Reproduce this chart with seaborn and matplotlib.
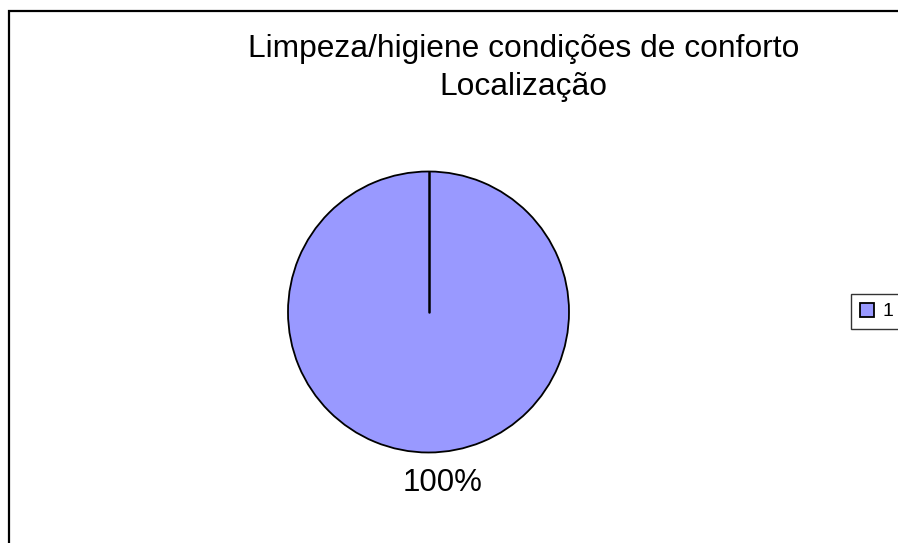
import matplotlib
matplotlib.use("Agg")
import matplotlib.pyplot as plt
import seaborn as sns
from matplotlib.patches import Rectangle

# data
categories = ["1"]
values = [100]
title_lines = ["Limpeza/higiene condições de conforto", "Localização"]
slice_colors = ["#9999FF"]

sns.set_theme(style="white")
plt.rcParams['font.family'] = ['Liberation Sans', 'DejaVu Sans']
plt.rcParams['text.color'] = 'black'

fig = plt.figure(figsize=(8.98, 5.43), dpi=100)
W, H = 898, 543

# outer chart frame (runs off right and bottom edges)
fig.patches.append(Rectangle((9 / W, -0.1), 1.1, 1 - 11 / H + 0.1, transform=fig.transFigure,
                             fill=False, edgecolor='black', linewidth=1.6, zorder=0))

# pie axes: center (428.5, 312) px, radius 140.5 px
r_px = 140.5
cx, cy = 428.5, 312
ax = fig.add_axes([(cx - r_px) / W, (H - cy - r_px) / H, 2 * r_px / W, 2 * r_px / H])
wedges, texts, autotexts = ax.pie(values, labels=None, colors=slice_colors, startangle=90,
                                  counterclock=False, autopct='%1.0f%%', pctdistance=1.22,
                                  wedgeprops=dict(edgecolor='black', linewidth=1.3),
                                  textprops=dict(fontsize=22.5, color='black'))
ax.set_xlim(-1, 1)
ax.set_ylim(-1, 1)
ax.set_aspect('equal')
for a in autotexts:
    a.set_clip_on(False)
    # label sits a little right of the slice centre, as in the original
    px, py = a.get_position()
    a.set_position((px + 0.1, py))

# radial line at the start of the (full) slice
w = wedges[0]
ax.plot([w.center[0], w.center[0]], [w.center[1], w.center[1] + w.r], color='black', linewidth=1.8)

# title
fig.text(523.5 / W, 1 - 57 / H, title_lines[0], ha='center', va='baseline', fontsize=22.9)
fig.text(523.5 / W, 1 - 95 / H, title_lines[1], ha='center', va='baseline', fontsize=22.9)

leg = fig.legend(wedges, categories, loc='center left', bbox_to_anchor=(851 / W, 1 - 311.5 / H),
                 fontsize=14, frameon=True, fancybox=False, handlelength=0.75, handleheight=0.75,
                 handletextpad=0.4, borderpad=0.45, borderaxespad=0, labelcolor='black')
leg.get_frame().set_edgecolor('black')
leg.get_frame().set_linewidth(1.0)

fig.savefig("out.png", dpi=100)
